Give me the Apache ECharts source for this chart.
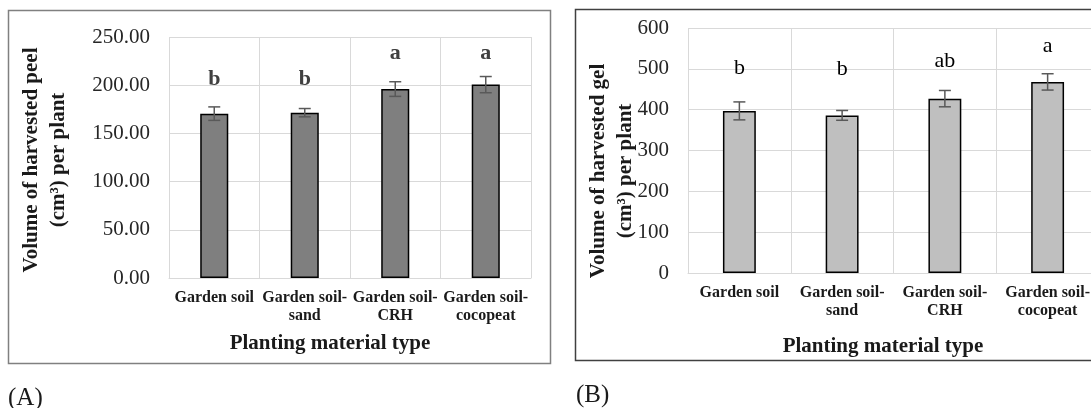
<!DOCTYPE html>
<html>
<head>
<meta charset="utf-8">
<script src="https://cdn.jsdelivr.net/npm/echarts@6/dist/echarts.min.js"></script>
<style>
html,body{margin:0;padding:0;background:#fff;}
#c{width:1091px;height:408px;}
</style>
</head>
<body>
<div id="c"></div>
<script>
const categories = ['Garden soil', 'Garden soil-\nsand', 'Garden soil-\nCRH', 'Garden soil-\ncocopeat'];
const peelMean = [170.5, 171.5, 196, 200.6];
const peelErr = [7, 4.3, 7.6, 8.4];
const peelLetters = ['b', 'b', 'a', 'a'];
const peelLetterY = [206, 206, 233, 233];
const gelMean = [397, 386, 427, 468];
const gelErr = [22, 12, 20, 20];
const gelLetters = ['b', 'b', 'ab', 'a'];
const gelLetterY = [502, 498, 518, 555];
const peelAxis = { min: 0, max: 250, interval: 50 };
const gelAxis = { min: 0, max: 600, interval: 100 };

const FONT = 'Liberation Serif';
const chart = echarts.init(document.getElementById('c'));

function errData(mean, err) {
  return mean.map((m, i) => [i, m - err[i], m + err[i]]);
}
function errRender(params, api) {
  const x = api.value(0);
  const lo = api.coord([x, api.value(1)]);
  const hi = api.coord([x, api.value(2)]);
  const hw = 6;
  const st = { stroke: '#595959', lineWidth: 1.5 };
  return {
    type: 'group',
    children: [
      { type: 'line', shape: { x1: hi[0], y1: hi[1], x2: lo[0], y2: lo[1] }, style: st },
      { type: 'line', shape: { x1: hi[0] - hw, y1: hi[1], x2: hi[0] + hw, y2: hi[1] }, style: st },
      { type: 'line', shape: { x1: lo[0] - hw, y1: lo[1], x2: lo[0] + hw, y2: lo[1] }, style: st }
    ]
  };
}
function letterRender(letters, font, fill) {
  return function (params, api) {
    const p = api.coord([api.value(0), api.value(1)]);
    return {
      type: 'text', x: p[0], y: p[1],
      style: { text: letters[params.dataIndex], font: font, fill: fill, textAlign: 'center', textVerticalAlign: 'middle' }
    };
  };
}
function xAxisCfg(gridIndex) {
  return {
    type: 'category', gridIndex, data: categories,
    axisLine: { show: true, lineStyle: { color: '#d9d9d9', width: 1 } },
    axisTick: { show: false },
    splitLine: { show: true, interval: 0, lineStyle: { color: '#d9d9d9', width: 1 } },
    axisLabel: { interval: 0, margin: 11, fontFamily: FONT, fontWeight: 'bold', fontSize: 16, lineHeight: 18, color: '#1a1a1a' }
  };
}
function yAxisCfg(gridIndex, ax, dec) {
  return {
    type: 'value', gridIndex, min: ax.min, max: ax.max, interval: ax.interval,
    axisLine: { show: false }, axisTick: { show: false },
    splitLine: { show: true, lineStyle: { color: '#d9d9d9', width: 1 } },
    axisLabel: { margin: 19, fontFamily: FONT, fontSize: 21, color: '#262626',
      formatter: v => v.toFixed(dec) }
  };
}

chart.setOption({
  animation: false,
  backgroundColor: '#fff',
  grid: [
    { left: 169, top: 37, right: 560, bottom: 130, outerBoundsMode: 'none', containLabel: false },
    { left: 688, top: 28, right: -8, bottom: 135, outerBoundsMode: 'none', containLabel: false }
  ],
  xAxis: [xAxisCfg(0), xAxisCfg(1)],
  yAxis: [yAxisCfg(0, peelAxis, 2), yAxisCfg(1, gelAxis, 0)],
  series: [
    { type: 'bar', xAxisIndex: 0, yAxisIndex: 0, data: peelMean, barWidth: '31%',
      itemStyle: { color: '#7f7f7f', borderColor: '#000', borderWidth: 1.5 } },
    { type: 'custom', xAxisIndex: 0, yAxisIndex: 0, z: 3, data: errData(peelMean, peelErr),
      encode: { x: 0, y: [1, 2] }, renderItem: errRender },
    { type: 'custom', xAxisIndex: 0, yAxisIndex: 0, z: 4,
      data: peelLetterY.map((y, i) => [i, y]), encode: { x: 0, y: 1 },
      renderItem: letterRender(peelLetters, 'bold 22px "Liberation Serif"', '#404040') },
    { type: 'bar', xAxisIndex: 1, yAxisIndex: 1, data: gelMean, barWidth: '32%',
      itemStyle: { color: '#bfbfbf', borderColor: '#000', borderWidth: 1.5 } },
    { type: 'custom', xAxisIndex: 1, yAxisIndex: 1, z: 3, data: errData(gelMean, gelErr),
      encode: { x: 0, y: [1, 2] }, renderItem: errRender },
    { type: 'custom', xAxisIndex: 1, yAxisIndex: 1, z: 4,
      data: gelLetterY.map((y, i) => [i, y]), encode: { x: 0, y: 1 },
      renderItem: letterRender(gelLetters, '22px "Liberation Serif"', '#000') }
  ],
  graphic: [
    { type: 'rect', shape: { x: 8.5, y: 10.5, width: 542, height: 353 }, style: { fill: 'none', stroke: '#808080', lineWidth: 1.5 }, z: -1 },
    { type: 'rect', shape: { x: 575.5, y: 9.5, width: 530, height: 351 }, style: { fill: 'none', stroke: '#404040', lineWidth: 1.5 }, z: -1 },
    { type: 'text', x: 45.5, y: 160, rotation: Math.PI / 2,
      style: { text: 'Volume of harvested peel\n(cm³) per plant', font: 'bold 21px "Liberation Serif"', lineHeight: 27,
        textAlign: 'center', textVerticalAlign: 'middle', fill: '#1a1a1a' } },
    { type: 'text', x: 612, y: 171, rotation: Math.PI / 2,
      style: { text: 'Volume of harvested gel\n(cm³) per plant', font: 'bold 21px "Liberation Serif"', lineHeight: 27,
        textAlign: 'center', textVerticalAlign: 'middle', fill: '#1a1a1a' } },
    { type: 'text', x: 330, y: 344,
      style: { text: 'Planting material type', font: 'bold 21px "Liberation Serif"', textAlign: 'center', textVerticalAlign: 'middle', fill: '#1a1a1a' } },
    { type: 'text', x: 883, y: 347,
      style: { text: 'Planting material type', font: 'bold 21px "Liberation Serif"', textAlign: 'center', textVerticalAlign: 'middle', fill: '#1a1a1a' } },
    { type: 'text', x: 8, y: 398,
      style: { text: '(A)', font: '25px "Liberation Serif"', textAlign: 'left', textVerticalAlign: 'middle', fill: '#1a1a1a' } },
    { type: 'text', x: 576, y: 395,
      style: { text: '(B)', font: '25px "Liberation Serif"', textAlign: 'left', textVerticalAlign: 'middle', fill: '#1a1a1a' } }
  ]
});
</script>
</body>
</html>
